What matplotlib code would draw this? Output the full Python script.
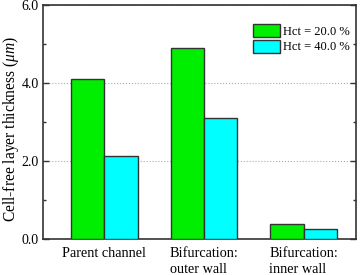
import numpy as np
import matplotlib
matplotlib.use("Agg")
import matplotlib.pyplot as plt
from matplotlib.ticker import MultipleLocator, FormatStrFormatter

categories = ["Parent channel", "Bifurcation:\nouter wall", "Bifurcation:\ninner wall"]
hct20 = [4.11, 4.91, 0.38]
hct40 = [2.13, 3.10, 0.26]
series_labels = ["Hct = 20.0 %", "Hct = 40.0 %"]

plt.rcParams["font.family"] = ["Liberation Serif", "DejaVu Serif"]
plt.rcParams["mathtext.fontset"] = "custom"
plt.rcParams["mathtext.it"] = "Liberation Serif:italic"

fig = plt.figure(figsize=(3.6, 2.75), dpi=100)
ax = fig.add_axes([43 / 360, 1 - 239 / 275, 313 / 360, 234 / 275])

x = np.arange(len(categories))
w = 0.335
ax.bar(x - w / 2, hct20, w, color="#00ee00", edgecolor="#333333", linewidth=1.0,
       label=series_labels[0], zorder=3)
ax.bar(x + w / 2, hct40, w, color="#00ffff", edgecolor="#333333", linewidth=1.0,
       label=series_labels[1], zorder=3)

ax.set_xlim(-0.613, 2.524)
ax.set_ylim(0, 6)
ax.set_xticks(x)
ax.set_xticklabels(categories, fontsize=10.3, linespacing=1.25, multialignment="left")
ax.tick_params(axis="x", length=0, pad=6)
ax.yaxis.set_major_locator(MultipleLocator(2))
ax.yaxis.set_minor_locator(MultipleLocator(1))
ax.yaxis.set_major_formatter(FormatStrFormatter("%.1f"))
ax.tick_params(axis="y", which="both", direction="in", right=True, labelsize=10,
               width=1.0, color="#333333", pad=3)
ax.tick_params(axis="y", which="major", length=4)
ax.tick_params(axis="y", which="minor", length=2.5)
ax.grid(axis="y", linestyle=":", color="#aaaaaa", linewidth=0.8, zorder=0)
for s in ax.spines.values():
    s.set_linewidth(1.2)
    s.set_color("#333333")

ax.set_ylabel("Cell-free layer thickness ($\\mathit{\\mu m}$)", fontsize=11.2)
ax.yaxis.set_label_coords(-0.07, 0.47)

ax.legend(loc="upper left", frameon=False, fontsize=9, handlelength=2.1,
          handleheight=1.25, borderpad=0, borderaxespad=0, bbox_to_anchor=(0.672, 0.918),
          labelspacing=0.12, handletextpad=0.3)

fig.savefig("out.png", dpi=100)
